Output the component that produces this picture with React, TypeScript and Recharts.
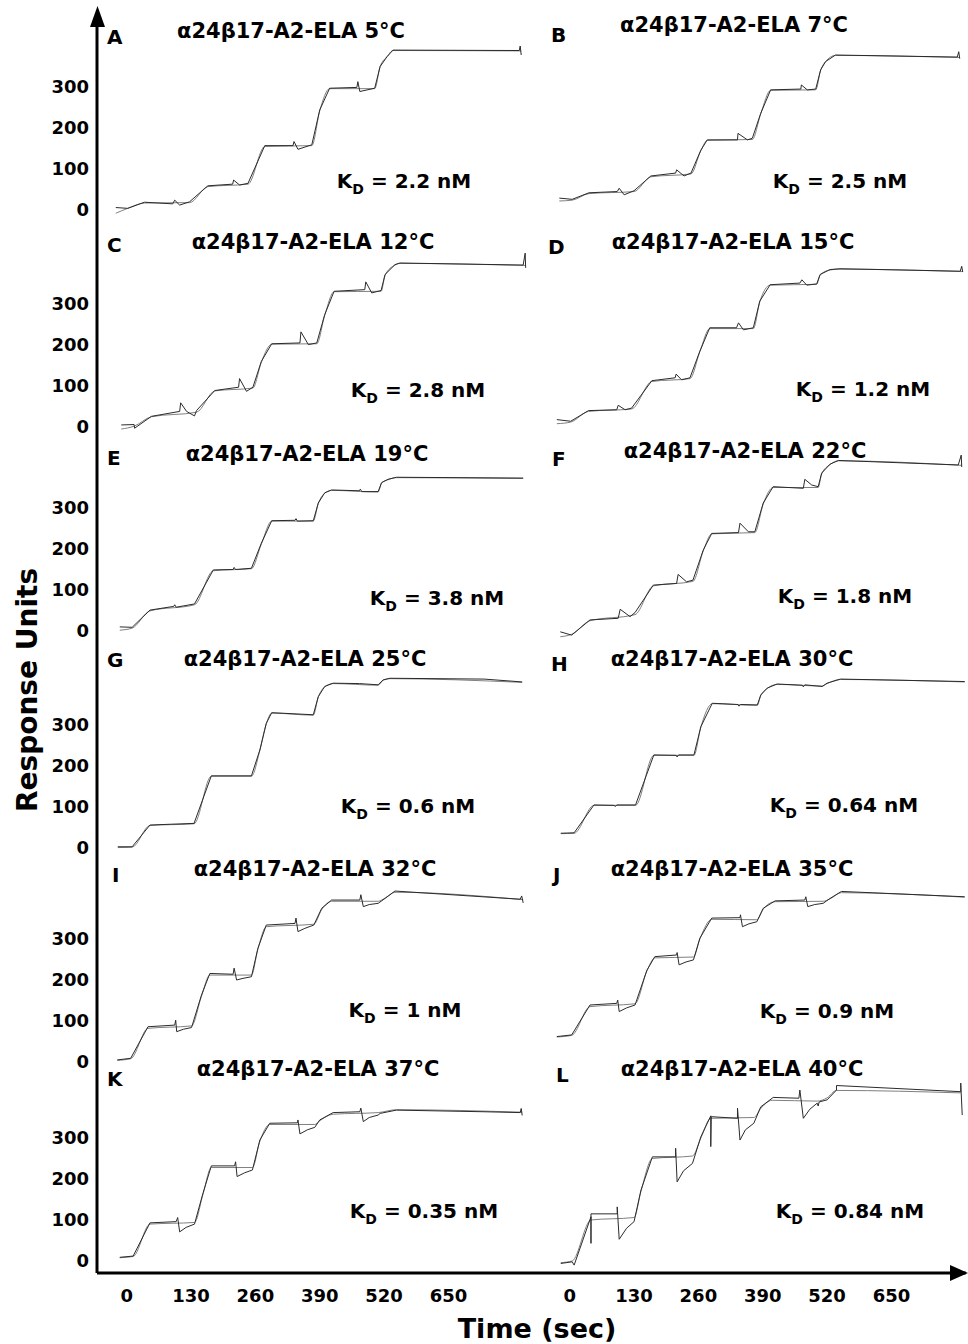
import React from 'react';
import { LineChart, Line, XAxis, YAxis } from 'recharts';

type Pt = [number, number]; // [time (s), response units]

const LETTERS = ['A', 'B', 'C', 'D', 'E', 'F', 'G', 'H', 'I', 'J', 'K', 'L'];
const TEMPS = [5, 7, 12, 15, 19, 22, 25, 30, 32, 35, 37, 40];
const KDS = ['2.2', '2.5', '2.8', '1.2', '3.8', '1.8', '0.6', '0.64', '1', '0.9', '0.35', '0.84'];
const TIME_TICKS = [0, 130, 260, 390, 520, 650];
const RU_TICKS = [0, 100, 200, 300];

const aData: Pt[] = [[-22, 6], [2, 4], [36, 19], [93, 15], [97, 24], [107, 12], [127, 20], [164, 59], [214, 63], [216, 73], [228, 61], [245, 65], [279, 157], [336, 157], [338, 167], [346, 148], [374, 159], [390, 244], [410, 297], [465, 299], [467, 313], [471, 289], [501, 297], [512, 350], [526, 374], [538, 390], [793, 389], [795, 400], [797, 378]];
const aFit: Pt[] = [[-22, -8], [2, 4], [36, 17], [127, 18], [164, 57], [245, 63], [279, 155], [374, 157], [390, 242], [410, 296], [501, 296], [512, 350], [526, 374], [538, 389], [797, 388]];

const bData: Pt[] = [[-21, 29], [5, 26], [39, 42], [96, 45], [100, 53], [110, 37], [130, 47], [164, 83], [214, 90], [216, 98], [231, 83], [245, 90], [265, 146], [278, 171], [339, 171], [340, 187], [359, 171], [369, 175], [386, 236], [406, 293], [467, 295], [468, 305], [480, 293], [497, 295], [507, 342], [517, 362], [537, 378], [783, 373], [786, 386], [788, 369]];
const bFit: Pt[] = [[-21, 22], [5, 24], [39, 40], [130, 45], [164, 81], [245, 88], [265, 145], [278, 170], [369, 172], [386, 235], [406, 292], [497, 293], [507, 341], [517, 362], [537, 377], [788, 372]];

const cData: Pt[] = [[-11, 5], [15, 6], [16, -3], [50, 26], [107, 38], [109, 59], [121, 38], [137, 27], [141, 40], [178, 89], [226, 97], [228, 118], [242, 87], [255, 97], [272, 160], [293, 203], [350, 205], [352, 232], [367, 201], [384, 205], [400, 274], [419, 331], [481, 335], [483, 354], [495, 327], [514, 333], [522, 372], [542, 396], [552, 400], [801, 395], [805, 424], [806, 388]];
const cFit: Pt[] = [[-11, -5], [15, 2], [50, 25], [141, 36], [178, 88], [255, 95], [272, 158], [293, 202], [384, 203], [400, 272], [419, 330], [514, 331], [522, 370], [542, 395], [552, 399], [806, 394]];

const dData: Pt[] = [[-26, 18], [2, 14], [38, 40], [95, 42], [98, 53], [112, 42], [125, 46], [166, 113], [213, 120], [215, 129], [226, 115], [243, 120], [263, 185], [283, 242], [337, 242], [341, 254], [351, 237], [371, 242], [384, 307], [405, 347], [465, 351], [469, 359], [479, 346], [499, 349], [506, 372], [526, 384], [546, 386], [789, 380], [792, 392], [794, 378]];
const dFit: Pt[] = [[-26, 8], [2, 12], [38, 38], [125, 44], [166, 111], [243, 118], [263, 184], [283, 240], [371, 240], [384, 305], [405, 346], [499, 348], [506, 371], [526, 383], [546, 385], [794, 379]];

const eData: Pt[] = [[-14, 10], [11, 9], [47, 51], [95, 60], [97, 64], [100, 58], [137, 66], [175, 149], [215, 150], [217, 155], [220, 150], [252, 153], [272, 214], [293, 269], [340, 270], [342, 274], [345, 268], [377, 269], [387, 312], [400, 337], [414, 344], [470, 342], [472, 346], [475, 340], [508, 340], [515, 362], [528, 370], [545, 375], [801, 373]];
const eFit: Pt[] = [[-14, 2], [11, 7], [47, 49], [137, 64], [175, 147], [252, 152], [272, 212], [293, 268], [377, 268], [387, 311], [400, 336], [414, 343], [508, 339], [515, 361], [528, 369], [545, 374], [801, 372]];

const fData: Pt[] = [[-19, -2], [4, -10], [41, 27], [98, 31], [102, 53], [122, 35], [132, 45], [169, 112], [216, 116], [219, 138], [236, 120], [249, 124], [270, 198], [287, 238], [341, 240], [344, 263], [361, 242], [374, 242], [391, 312], [411, 352], [472, 348], [475, 370], [489, 356], [502, 352], [509, 385], [526, 407], [543, 416], [785, 405], [791, 429], [792, 400]];
const fFit: Pt[] = [[-19, -14], [4, -8], [41, 25], [132, 40], [169, 110], [249, 121], [270, 196], [287, 237], [374, 240], [391, 310], [411, 350], [502, 350], [509, 383], [526, 406], [543, 415], [792, 404]];

const gData: Pt[] = [[-18, 3], [11, 3], [47, 56], [90, 58], [136, 60], [171, 176], [252, 176], [269, 239], [282, 304], [293, 330], [377, 325], [387, 369], [400, 394], [417, 402], [470, 401], [508, 398], [518, 410], [532, 414], [722, 412], [799, 405]];
const gFit: Pt[] = [[-18, 1], [11, 2], [47, 55], [136, 59], [171, 175], [252, 175], [269, 238], [282, 303], [293, 329], [377, 324], [387, 368], [400, 393], [417, 401], [508, 397], [518, 409], [532, 413], [799, 404]];

const hData: Pt[] = [[-18, 36], [9, 37], [49, 105], [90, 104], [92, 101], [95, 105], [133, 105], [170, 227], [215, 226], [217, 222], [220, 227], [251, 227], [265, 296], [288, 353], [340, 350], [342, 346], [345, 350], [379, 349], [386, 373], [399, 390], [419, 400], [470, 397], [472, 393], [475, 398], [510, 394], [520, 402], [547, 412], [798, 406]];
const hFit: Pt[] = [[-18, 35], [9, 36], [49, 104], [133, 104], [170, 226], [251, 226], [265, 295], [288, 352], [379, 348], [386, 372], [399, 389], [419, 399], [510, 395], [520, 401], [547, 411], [798, 405]];

const iData: Pt[] = [[-19, 5], [8, 9], [43, 86], [97, 90], [99, 102], [101, 74], [115, 80], [131, 84], [151, 163], [168, 216], [215, 214], [217, 229], [222, 200], [235, 204], [252, 208], [265, 277], [282, 334], [340, 338], [342, 351], [346, 318], [360, 326], [378, 334], [394, 375], [414, 395], [471, 395], [473, 408], [478, 379], [490, 384], [508, 387], [522, 399], [542, 417], [795, 397], [798, 405], [801, 388]];
const iFit: Pt[] = [[-19, 4], [8, 8], [43, 82], [131, 88], [151, 160], [168, 212], [252, 212], [265, 275], [282, 330], [378, 336], [394, 372], [414, 392], [508, 392], [522, 400], [542, 414], [801, 396]];

const jData: Pt[] = [[-26, 62], [4, 66], [41, 139], [95, 143], [97, 151], [100, 123], [115, 132], [132, 139], [156, 224], [172, 257], [216, 261], [217, 267], [221, 237], [235, 244], [250, 249], [263, 302], [287, 351], [344, 352], [345, 359], [349, 330], [362, 337], [378, 342], [391, 375], [415, 393], [475, 395], [477, 403], [481, 379], [495, 384], [512, 387], [526, 399], [549, 416], [798, 403]];
const jFit: Pt[] = [[-26, 61], [4, 65], [41, 135], [132, 142], [156, 222], [172, 254], [250, 256], [263, 300], [287, 348], [378, 347], [391, 373], [415, 391], [512, 392], [526, 398], [549, 413], [798, 402]];

const kData: Pt[] = [[-14, 9], [13, 12], [47, 93], [100, 96], [103, 106], [107, 71], [120, 82], [137, 90], [154, 165], [171, 232], [218, 232], [220, 242], [223, 206], [238, 215], [254, 222], [269, 295], [289, 336], [345, 337], [346, 344], [350, 310], [365, 320], [380, 326], [390, 344], [417, 362], [471, 364], [473, 373], [478, 340], [490, 350], [508, 356], [512, 360], [545, 368], [722, 364], [795, 362], [797, 372], [799, 355]];
const kFit: Pt[] = [[-14, 8], [13, 11], [47, 90], [137, 94], [154, 162], [171, 228], [254, 228], [269, 292], [289, 333], [380, 333], [390, 342], [417, 358], [508, 362], [545, 369], [799, 363]];

const lData: Pt[] = [[-18, -6], [5, -2], [9, -10], [43, 108], [43, 43], [43, 115], [96, 115], [96, 132], [100, 53], [115, 80], [130, 96], [144, 173], [167, 254], [214, 254], [214, 275], [217, 193], [230, 220], [248, 238], [265, 303], [285, 354], [285, 279], [286, 352], [339, 348], [339, 373], [344, 295], [355, 320], [372, 336], [386, 376], [409, 397], [411, 399], [463, 397], [465, 417], [472, 348], [485, 370], [500, 385], [502, 378], [504, 388], [520, 393], [539, 417], [539, 428], [790, 413], [790, 434], [793, 356]];
const lFit: Pt[] = [[-18, -4], [5, 0], [43, 100], [130, 106], [144, 170], [167, 250], [248, 256], [265, 300], [285, 348], [372, 350], [386, 372], [409, 392], [500, 390], [520, 398], [539, 416], [790, 410]];

const DATA = [aData, bData, cData, dData, eData, fData, gData, hData, iData, jData, kData, lData];
const FITS = [aFit, bFit, cFit, dFit, eFit, fFit, gFit, hFit, iFit, jFit, kFit, lFit];

// layout
const FONT = '"DejaVu Sans", sans-serif';
const PX_PER_SEC = 0.495;
const PX_PER_RU = 0.41;
const ROWS = [
  { top: 20, zero: 210, bottom: 228 },
  { top: 228, zero: 427, bottom: 441 },
  { top: 441, zero: 631, bottom: 647 },
  { top: 647, zero: 848, bottom: 860 },
  { top: 860, zero: 1062, bottom: 1066 },
  { top: 1066, zero: 1261, bottom: 1273 },
];
const COLS = [
  { origin: 127, domain: [-60, 835] },
  { origin: 569.6, domain: [-60, 800] },
];
// [letter x, letter y, title cx, title cy, KD cx, KD cy]
const LABEL_POS = [
  [107, 37, 291, 31, 404, 181],
  [551, 35, 734, 25, 840, 181],
  [107, 245, 313, 242, 418, 390],
  [548, 247, 733, 242, 863, 389],
  [107, 458, 307, 454, 437, 598],
  [552, 459, 745, 451, 845, 596],
  [107, 660, 305, 659, 408, 806],
  [551, 664, 732, 659, 844, 805],
  [112, 875, 315, 869, 405, 1010],
  [553, 875, 732, 869, 827, 1011],
  [107, 1079, 318, 1069, 424, 1211],
  [556, 1075, 742, 1069, 850, 1211],
];

const tickStyle = { fontFamily: FONT, fontWeight: 'bold', fontSize: 18, fill: '#000' };
const toRows = (pts: Pt[]) => pts.map(([t, ru]) => ({ t, ru }));

const Panel: React.FC<{ idx: number }> = ({ idx }) => {
  const row = Math.floor(idx / 2);
  const col = idx % 2;
  const r = ROWS[row];
  const c = COLS[col];
  const isBottom = row === ROWS.length - 1;
  const yAxisW = col === 0 ? 60 : 0;
  const xAxisH = isBottom ? 50 : 0;
  const plotW = (c.domain[1] - c.domain[0]) * PX_PER_SEC;
  const plotH = r.bottom - r.top;
  const plotLeft = c.origin + c.domain[0] * PX_PER_SEC;
  const yDomain = [-(r.bottom - r.zero) / PX_PER_RU, (r.zero - r.top) / PX_PER_RU];

  return (
    <div style={{ position: 'absolute', left: plotLeft - yAxisW, top: r.top }}>
      <LineChart
        width={plotW + yAxisW}
        height={plotH + xAxisH}
        margin={{ top: 0, right: 0, bottom: 0, left: 0 }}
      >
        <XAxis
          type="number"
          dataKey="t"
          domain={c.domain}
          ticks={TIME_TICKS}
          interval={0}
          hide={!isBottom}
          height={xAxisH}
          tickLine={false}
          tickSize={0}
          tickMargin={16}
          tick={tickStyle}
          axisLine={{ stroke: '#000', strokeWidth: 3 }}
        />
        <YAxis
          type="number"
          domain={yDomain}
          ticks={RU_TICKS}
          interval={0}
          hide={col !== 0}
          width={yAxisW}
          tickLine={false}
          tickSize={0}
          tickMargin={8}
          tick={tickStyle}
          axisLine={{ stroke: '#000', strokeWidth: 3 }}
        />
        <Line
          data={toRows(FITS[idx])}
          dataKey="ru"
          type="monotone"
          stroke="#808080"
          strokeWidth={1}
          dot={false}
          isAnimationActive={false}
        />
        <Line
          data={toRows(DATA[idx])}
          dataKey="ru"
          type="linear"
          stroke="#2a2a2a"
          strokeWidth={1}
          dot={false}
          isAnimationActive={false}
        />
      </LineChart>
    </div>
  );
};

const text = (extra: React.CSSProperties): React.CSSProperties => ({
  position: 'absolute',
  fontFamily: FONT,
  fontWeight: 'bold',
  color: '#000',
  lineHeight: 1,
  whiteSpace: 'nowrap',
  ...extra,
});

export default function App() {
  return (
    <div style={{ position: 'absolute', left: 0, top: 0, width: 968, height: 1344, background: '#fff', overflow: 'hidden' }}>
      <style>{'.recharts-surface { overflow: visible; }'}</style>
      {LETTERS.map((_, i) => (
        <Panel key={i} idx={i} />
      ))}
      {LETTERS.map((letter, i) => {
        const [lx, ly, tx, ty, kx, ky] = LABEL_POS[i];
        return (
          <React.Fragment key={letter}>
            <div style={text({ left: lx, top: ly, fontSize: 20, transform: 'translateY(-50%)' })}>{letter}</div>
            <div style={text({ left: tx, top: ty, fontSize: 21, transform: 'translate(-50%, -50%)' })}>
              {`α24β17-A2-ELA ${TEMPS[i]}°C`}
            </div>
            <div style={text({ left: kx, top: ky, fontSize: 20, transform: 'translate(-50%, -50%)' })}>
              K<span style={{ fontSize: '0.7em', position: 'relative', top: '0.4em' }}>D</span>
              {` = ${KDS[i]} nM`}
            </div>
          </React.Fragment>
        );
      })}
      <div style={text({ left: 28, top: 690, fontSize: 28, transform: 'translate(-50%, -50%) rotate(-90deg)' })}>
        Response Units
      </div>
      <div style={text({ left: 537, top: 1328, fontSize: 27, transform: 'translate(-50%, -50%)' })}>Time (sec)</div>
      <svg width={968} height={1344} style={{ position: 'absolute', left: 0, top: 0, pointerEvents: 'none' }}>
        <polygon points="97.5,6 90,27 105,27" fill="#000" />
        <polygon points="968,1273 950,1265 950,1281" fill="#000" />
      </svg>
    </div>
  );
}
